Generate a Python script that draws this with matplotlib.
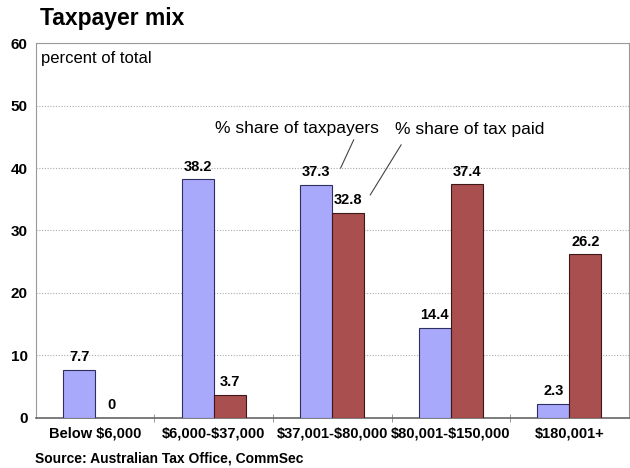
import matplotlib
matplotlib.use('Agg')
import matplotlib.pyplot as plt
import numpy as np

plt.rcParams['font.family'] = ['Liberation Sans', 'DejaVu Sans']
plt.rcParams['text.parse_math'] = False

categories = ['Below $6,000', '$6,000-$37,000', '$37,001-$80,000',
              '$80,001-$150,000', '$180,001+']
taxpayers = [7.7, 38.2, 37.3, 14.4, 2.3]
tax_paid = [0, 3.7, 32.8, 37.4, 26.2]
yticks = [0, 10, 20, 30, 40, 50, 60]

fig = plt.figure(figsize=(6.3, 4.68), dpi=100)
ax = fig.add_axes([0.057, 0.107, 0.941, 0.801])

x = np.arange(len(categories))
w = 0.27
ax.bar(x - w / 2, taxpayers, w, color='#a9a9fb', edgecolor='#2e2e60', linewidth=0.8, zorder=3)
ax.bar(x + w / 2, tax_paid, w, color='#a94f4f', edgecolor='#3e1818', linewidth=0.8, zorder=3)

for xi, v in zip(x - w / 2, taxpayers):
    ax.text(xi, v + 0.9, f'{v:g}', ha='center', va='bottom', fontsize=10.5, fontweight='bold')
for xi, v in zip(x + w / 2, tax_paid):
    ax.text(xi, v + 0.9, f'{v:g}', ha='center', va='bottom', fontsize=10.5, fontweight='bold')

ax.set_xlim(-0.5, len(categories) - 0.5)
ax.set_ylim(0, 60)
ax.set_yticks(yticks)
ax.set_yticklabels([str(t) for t in yticks], fontsize=11, fontweight='bold')
ax.set_xticks(x)
ax.set_xticklabels(categories, fontsize=10.5, fontweight='bold')
ax.tick_params(axis='both', length=0, pad=6)
ax.set_xticks(np.arange(0.5, len(categories) - 0.5, 1), minor=True)
ax.tick_params(axis='x', which='minor', length=6, direction='inout', color='#888888')

ax.yaxis.grid(True, linestyle=(0, (1, 1.5)), color='#aaaaaa', linewidth=0.8, zorder=0)
for s in ['top', 'left', 'right']:
    ax.spines[s].set_color('#999999')
ax.spines['bottom'].set_color('#666666')
ax.spines['bottom'].set_linewidth(1.2)

ax.text(0.008, 0.98, 'percent of total', transform=ax.transAxes, ha='left', va='top', fontsize=12)

# callout labels and their leader lines
ax.text(1.70, 46.4, '% share of taxpayers', ha='center', va='center', fontsize=12.5)
ax.plot([2.18, 2.07], [44.5, 40.0], color='#444444', lw=0.8)
ax.text(3.16, 46.2, '% share of tax paid', ha='center', va='center', fontsize=12.5)
ax.plot([2.58, 2.32], [43.7, 35.7], color='#444444', lw=0.8)

fig.text(0.063, 0.96, 'Taxpayer mix', fontsize=16.5, fontweight='bold', ha='left', va='center')
fig.text(0.055, 0.02, 'Source: Australian Tax Office, CommSec', fontsize=10,
         fontweight='bold', ha='left', va='center')

fig.savefig('out.png', dpi=100)
